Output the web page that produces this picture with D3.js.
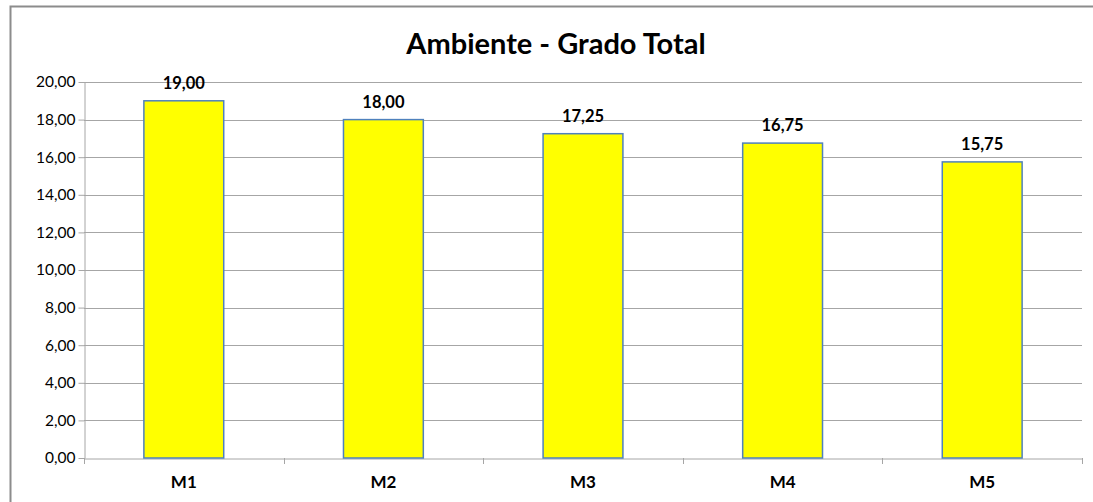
<!DOCTYPE html>
<html>
<head>
<meta charset="utf-8">
<script src="https://cdn.jsdelivr.net/npm/d3@7"></script>
<style>
  html, body { margin: 0; padding: 0; background: #fff; }
  svg { display: block; }
</style>
</head>
<body>
<div id="chart"></div>
<script>
const categories = ['M1', 'M2', 'M3', 'M4', 'M5'];
const values = [19.00, 18.00, 17.25, 16.75, 15.75];
const yTicks = [0, 2, 4, 6, 8, 10, 12, 14, 16, 18, 20];
const title = 'Ambiente - Grado Total';

const W = 1093, H = 502;
const margin = { top: 82, right: 11, bottom: 44, left: 84 };
const FONT = 'Lato, "Open Sans", sans-serif';

const fmt = v => v.toFixed(2).replace('.', ',');

const svg = d3.select('#chart').append('svg')
  .attr('width', W)
  .attr('height', H);

// outer chart frame
svg.append('rect')
  .attr('x', 10.5).attr('y', 6.5)
  .attr('width', W + 20).attr('height', H + 20)
  .attr('fill', '#fff')
  .attr('stroke', '#8c8c8c')
  .attr('stroke-width', 2);

svg.append('text')
  .attr('x', 556).attr('y', 54)
  .attr('text-anchor', 'middle')
  .attr('font-family', FONT)
  .attr('font-weight', 'bold')
  .attr('font-size', 29)
  .attr('fill', '#000')
  .text(title);

const x = d3.scaleBand()
  .domain(categories)
  .range([margin.left, W - margin.right])
  .paddingInner(0.6)
  .paddingOuter(0.3);

const y = d3.scaleLinear()
  .domain([0, 20])
  .range([H - margin.bottom, margin.top]);

// gridlines
svg.append('g')
  .selectAll('line')
  .data(yTicks.filter(d => d > 0))
  .join('line')
  .attr('x1', margin.left).attr('x2', W - margin.right)
  .attr('y1', d => Math.round(y(d)) + 0.5)
  .attr('y2', d => Math.round(y(d)) + 0.5)
  .attr('stroke', '#a6a6a6')
  .attr('stroke-width', 1);

// y axis
const yAxis = svg.append('g')
  .attr('transform', `translate(${margin.left + 0.5},0)`)
  .call(d3.axisLeft(y).tickValues(yTicks).tickFormat(fmt).tickSize(6).tickSizeOuter(0));
yAxis.select('.domain').attr('stroke', '#a6a6a6');
yAxis.selectAll('.tick line').attr('stroke', '#a6a6a6');
yAxis.selectAll('.tick text')
  .attr('font-family', FONT)
  .attr('font-size', 15.5)
  .attr('fill', '#000')
  .attr('x', -9);

// x axis
const xAxis = svg.append('g')
  .attr('transform', `translate(0,${Math.round(y(0)) + 0.5})`)
  .call(d3.axisBottom(x).tickSize(0).tickSizeOuter(0));
xAxis.select('.domain').attr('stroke', '#a6a6a6');
xAxis.selectAll('.tick text')
  .attr('font-family', FONT)
  .attr('font-weight', 'bold')
  .attr('font-size', 17)
  .attr('fill', '#000')
  .attr('dy', '1.55em');

// category boundary ticks
const bounds = d3.range(categories.length + 1).map(i => margin.left + i * (W - margin.right - margin.left) / categories.length);
svg.append('g')
  .selectAll('line')
  .data(bounds)
  .join('line')
  .attr('x1', d => Math.round(d) + 0.5).attr('x2', d => Math.round(d) + 0.5)
  .attr('y1', y(0)).attr('y2', y(0) + 6)
  .attr('stroke', '#a6a6a6');

// bars
svg.append('g')
  .selectAll('rect')
  .data(values)
  .join('rect')
  .attr('x', (d, i) => x(categories[i]))
  .attr('y', d => y(d))
  .attr('width', x.bandwidth())
  .attr('height', d => y(0) - y(d))
  .attr('fill', '#ffff00')
  .attr('stroke', '#4f81bd')
  .attr('stroke-width', 1.5);

// value labels
svg.append('g')
  .selectAll('text')
  .data(values)
  .join('text')
  .attr('x', (d, i) => x(categories[i]) + x.bandwidth() / 2)
  .attr('y', d => y(d) - 12)
  .attr('text-anchor', 'middle')
  .attr('font-family', FONT)
  .attr('font-weight', 'bold')
  .attr('font-size', 16.5)
  .attr('fill', '#000')
  .text(fmt);
</script>
</body>
</html>
